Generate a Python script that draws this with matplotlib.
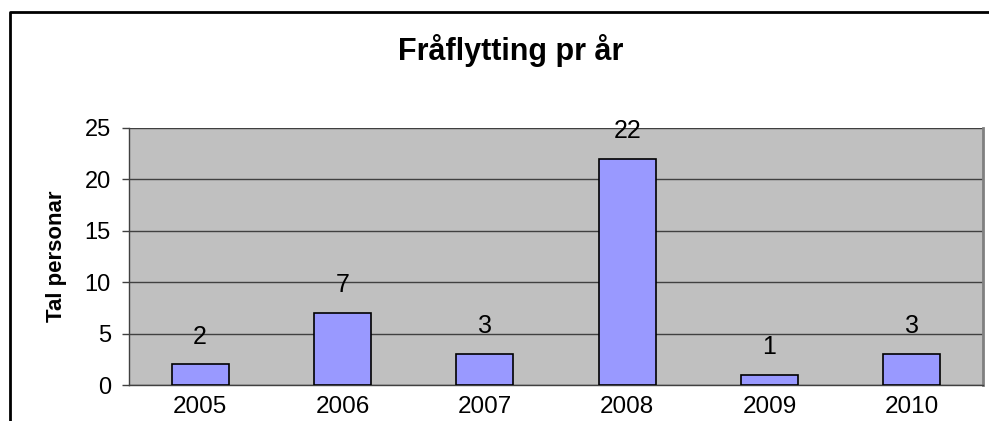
import matplotlib
matplotlib.use('Agg')
import matplotlib.pyplot as plt
from matplotlib.lines import Line2D

# data
years = ['2005', '2006', '2007', '2008', '2009', '2010']
counts = [2, 7, 3, 22, 1, 3]
yticks = [0, 5, 10, 15, 20, 25]

plt.rcParams['font.family'] = ['Liberation Sans', 'DejaVu Sans']

W, H = 989, 421
fig = plt.figure(figsize=(W / 100, H / 100), dpi=100)
ax = fig.add_axes([129 / W, 1 - 385 / H, (983 - 129) / W, (385 - 128) / H])

ax.set_facecolor('#C0C0C0')
x = range(len(years))
ax.bar(x, counts, width=0.4, color='#9999FF', edgecolor='black', linewidth=1.2, zorder=3)
for i, v in zip(x, counts):
    ax.annotate(str(v), (i, v), xytext=(0, 15), textcoords='offset points',
                ha='center', va='baseline', fontsize=18)

ax.set_xlim(-0.5, len(years) - 0.5)
ax.set_ylim(0, 25)
ax.set_yticks(yticks)
ax.set_xticks(list(x))
ax.set_xticklabels(years)
ax.tick_params(axis='y', labelsize=17, length=5, width=1, color='#404040', direction='out', pad=8)
ax.tick_params(axis='x', labelsize=17.5, length=0, pad=8)
ax.yaxis.grid(True, color='#404040', linewidth=1, zorder=1)
ax.set_axisbelow(True)
for s in ['left', 'bottom']:
    ax.spines[s].set_color('#404040')
    ax.spines[s].set_linewidth(1)
ax.spines['right'].set_color('#808080')
ax.spines['right'].set_linewidth(2)
ax.spines['top'].set_visible(False)

ax.set_ylabel('Tal personar', fontsize=16, fontweight='bold', labelpad=13)
fig.text(511 / W, 1 - 60 / H, 'Fråflytting pr år', fontsize=22, fontweight='bold',
         ha='center', va='baseline')

# outer chart frame
fig.add_artist(Line2D([9.5 / W, 9.5 / W, 1.0], [0.0, 1 - 11.5 / H, 1 - 11.5 / H],
                      transform=fig.transFigure, color='black', linewidth=2))

fig.savefig('out.png', dpi=100)
